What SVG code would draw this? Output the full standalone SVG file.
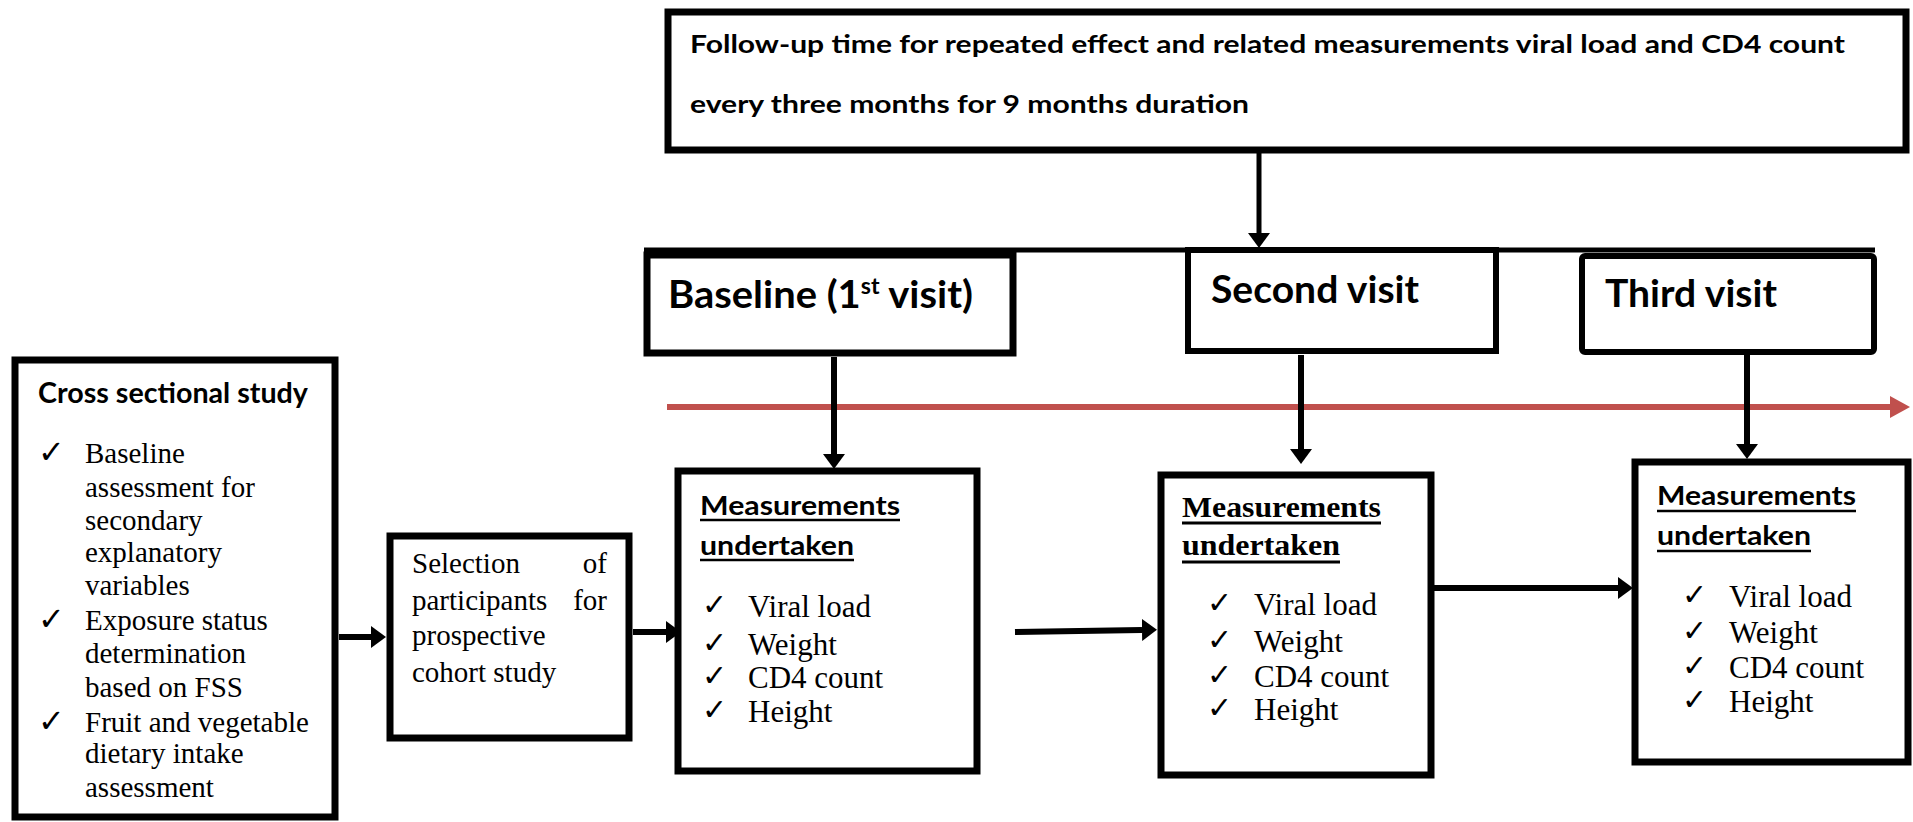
<svg xmlns="http://www.w3.org/2000/svg" width="1913" height="822" viewBox="0 0 1913 822">
<style>
.box{fill:#fff;stroke:#000;stroke-width:7}
.sans{font-family:Lato,"Open Sans","DejaVu Sans",sans-serif;font-weight:bold;fill:#000}
.serif{font-family:"Liberation Serif","Times New Roman",serif;fill:#000}
.chk{font-family:"DejaVu Sans",sans-serif;fill:#000}
.conn{stroke:#000;stroke-width:6;fill:none}
.ul{stroke:#000;stroke-width:2.5}
</style>
<defs>
<marker id="ah" markerUnits="userSpaceOnUse" markerWidth="15" markerHeight="22" refX="0" refY="11" orient="auto"><path d="M0,0 L15,11 L0,22 z" fill="#000"/></marker>
<marker id="ahr" markerUnits="userSpaceOnUse" markerWidth="20" markerHeight="22" refX="0" refY="11" orient="auto"><path d="M0,0 L20,11 L0,22 z" fill="#C0504D"/></marker>
</defs>
<rect width="1913" height="822" fill="#fff"/>

<g id="connectors">
<line x1="1259" y1="142" x2="1259" y2="233" class="conn" style="stroke-width:5" marker-end="url(#ah)"/>
<line x1="644" y1="250" x2="1875" y2="250" class="conn" style="stroke-width:5"/>
<line x1="667" y1="407" x2="1890" y2="407" style="stroke:#C0504D;stroke-width:6" marker-end="url(#ahr)"/>
<line x1="834" y1="357" x2="834" y2="454" class="conn" marker-end="url(#ah)"/>
<line x1="1301" y1="355" x2="1301" y2="449" class="conn" marker-end="url(#ah)"/>
<line x1="1747" y1="354" x2="1747" y2="444" class="conn" marker-end="url(#ah)"/>
<line x1="339" y1="637" x2="371" y2="637" class="conn" marker-end="url(#ah)"/>
<line x1="633" y1="632" x2="666" y2="632" class="conn" marker-end="url(#ah)"/>
<line x1="1015" y1="632" x2="1142" y2="630" class="conn" marker-end="url(#ah)"/>
<line x1="1434" y1="588" x2="1618" y2="588" class="conn" marker-end="url(#ah)"/>
</g>

<g id="followup">
<rect class="box" x="668" y="12" width="1238" height="138"/>
<text class="sans" x="690" y="53" font-size="24" textLength="1155" lengthAdjust="spacingAndGlyphs">Follow-up time for repeated effect and related measurements viral load and CD4 count</text>
<text class="sans" x="690" y="113" font-size="24" textLength="559" lengthAdjust="spacingAndGlyphs">every three months for 9 months duration</text>
</g>

<g id="baseline-visit">
<rect class="box" x="647" y="255" width="366" height="98"/>
<text class="sans" x="668" y="308" font-size="38" textLength="305" lengthAdjust="spacingAndGlyphs">Baseline (1<tspan font-size="22" dy="-14">st</tspan><tspan dy="14"> visit)</tspan></text>
</g>

<g id="second-visit">
<rect class="box" x="1188" y="250" width="308" height="101" style="stroke-width:6"/>
<text class="sans" x="1211" y="303" font-size="38" textLength="208" lengthAdjust="spacingAndGlyphs">Second visit</text>
</g>

<g id="third-visit">
<rect class="box" x="1582" y="256" width="292" height="96" rx="3" style="stroke-width:6"/>
<text class="sans" x="1605" y="307" font-size="38" textLength="172" lengthAdjust="spacingAndGlyphs">Third visit</text>
</g>

<g id="cross-sectional">
<rect class="box" x="15" y="360" width="320" height="457"/>
<text class="sans" x="38" y="403" font-size="28" textLength="270" lengthAdjust="spacingAndGlyphs">Cross sectional study</text>
<text class="chk" font-size="32"><tspan x="38" y="463">✓</tspan><tspan x="38" y="630">✓</tspan><tspan x="38" y="732">✓</tspan></text>
<g class="serif" font-size="29">
<text x="85" y="463">Baseline</text>
<text x="85" y="497">assessment for</text>
<text x="85" y="530">secondary</text>
<text x="85" y="562">explanatory</text>
<text x="85" y="595">variables</text>
<text x="85" y="630">Exposure status</text>
<text x="85" y="663">determination</text>
<text x="85" y="697">based on FSS</text>
<text x="85" y="732">Fruit and vegetable</text>
<text x="85" y="763">dietary intake</text>
<text x="85" y="797">assessment</text>
</g>
</g>

<g id="selection">
<rect class="box" x="390" y="536" width="239" height="202"/>
<g class="serif" font-size="29">
<text x="412" y="573">Selection</text>
<text x="607" y="573" text-anchor="end">of</text>
<text x="412" y="610">participants</text>
<text x="607" y="610" text-anchor="end">for</text>
<text x="412" y="645">prospective</text>
<text x="412" y="682">cohort study</text>
</g>
</g>

<g id="measurements-1">
<rect class="box" x="678" y="471" width="299" height="300"/>
<text class="sans" x="700" y="515" font-size="26" textLength="200" lengthAdjust="spacingAndGlyphs">Measurements</text>
<line class="ul" x1="700" y1="520" x2="900" y2="520"/>
<text class="sans" x="700" y="555" font-size="26" textLength="154" lengthAdjust="spacingAndGlyphs">undertaken</text>
<line class="ul" x1="700" y1="560" x2="854" y2="560"/>
<text class="chk" font-size="30"><tspan x="702" y="615">✓</tspan><tspan x="702" y="653">✓</tspan><tspan x="702" y="686">✓</tspan><tspan x="702" y="720">✓</tspan></text>
<g class="serif" font-size="31">
<text x="748" y="617">Viral load</text>
<text x="748" y="655">Weight</text>
<text x="748" y="688">CD4 count</text>
<text x="748" y="722">Height</text>
</g>
</g>

<g id="measurements-2">
<rect class="box" x="1161" y="475" width="270" height="300"/>
<text class="serif" x="1182" y="517" font-size="30" font-weight="bold" textLength="199" lengthAdjust="spacingAndGlyphs">Measurements</text>
<line class="ul" x1="1182" y1="523" x2="1381" y2="523" style="stroke-width:3"/>
<text class="serif" x="1182" y="555" font-size="30" font-weight="bold" textLength="158" lengthAdjust="spacingAndGlyphs">undertaken</text>
<line class="ul" x1="1182" y1="562" x2="1340" y2="562" style="stroke-width:3"/>
<text class="chk" font-size="30"><tspan x="1207" y="613">✓</tspan><tspan x="1207" y="650">✓</tspan><tspan x="1207" y="685">✓</tspan><tspan x="1207" y="718">✓</tspan></text>
<g class="serif" font-size="31">
<text x="1254" y="615">Viral load</text>
<text x="1254" y="652">Weight</text>
<text x="1254" y="687">CD4 count</text>
<text x="1254" y="720">Height</text>
</g>
</g>

<g id="measurements-3">
<rect class="box" x="1635" y="462" width="273" height="300"/>
<text class="sans" x="1657" y="505" font-size="26" textLength="199" lengthAdjust="spacingAndGlyphs">Measurements</text>
<line class="ul" x1="1657" y1="511" x2="1856" y2="511"/>
<text class="sans" x="1657" y="545" font-size="26" textLength="154" lengthAdjust="spacingAndGlyphs">undertaken</text>
<line class="ul" x1="1657" y1="551" x2="1811" y2="551"/>
<text class="chk" font-size="30"><tspan x="1682" y="605">✓</tspan><tspan x="1682" y="641">✓</tspan><tspan x="1682" y="676">✓</tspan><tspan x="1682" y="710">✓</tspan></text>
<g class="serif" font-size="31">
<text x="1729" y="607">Viral load</text>
<text x="1729" y="643">Weight</text>
<text x="1729" y="678">CD4 count</text>
<text x="1729" y="712">Height</text>
</g>
</g>
</svg>
